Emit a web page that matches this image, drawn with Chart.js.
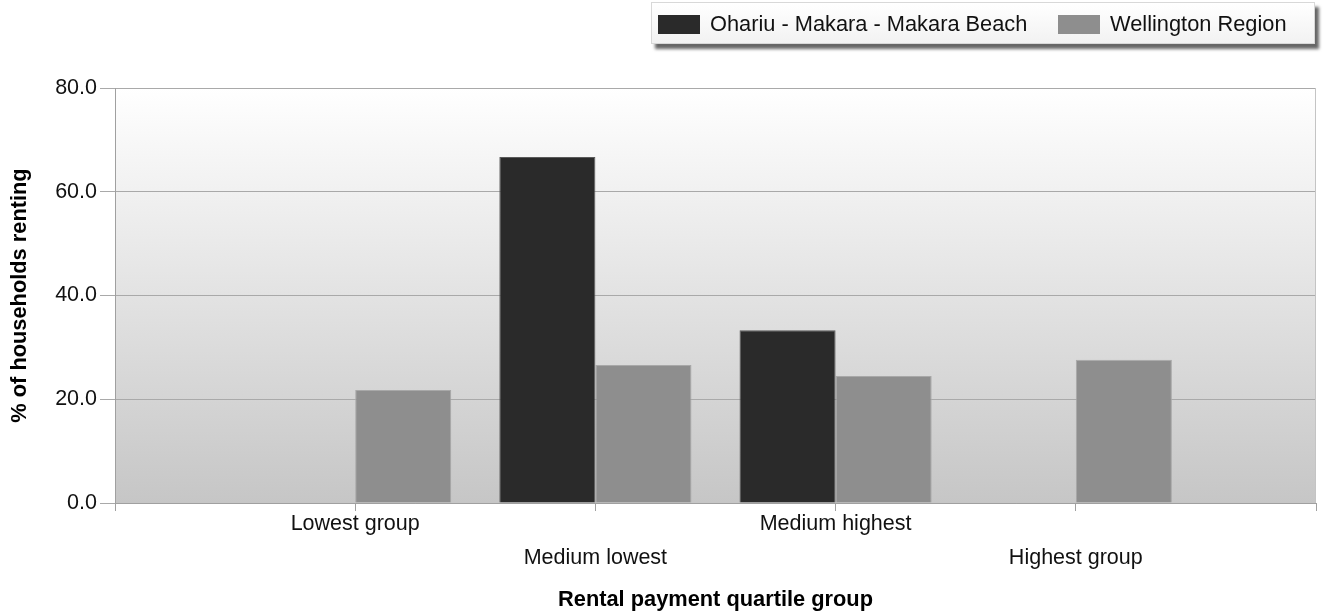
<!DOCTYPE html>
<html>
<head>
<meta charset="utf-8">
<script src="https://cdn.jsdelivr.net/npm/chart.js@4"></script>
<style>
  html, body { margin: 0; padding: 0; background: #fff; }
  #wrap { position: relative; width: 1326px; height: 614px; }
  #legend {
    position: absolute; left: 651px; top: 2px; width: 664px; height: 42px;
    box-sizing: border-box; border: 1px solid #d8d8d8;
    background: linear-gradient(#ffffff, #f2f2f2);
    box-shadow: 4px 5px 3px rgba(0,0,0,0.6);
    font: 21.8px "Liberation Sans", Arial, sans-serif; color: #111;
  }
  .item { position: absolute; top: 9px; line-height: 24px; white-space: nowrap; }
  .sw { display: inline-block; width: 42px; height: 19px; vertical-align: -3px; margin-right: 10px; }
</style>
</head>
<body>
<div id="wrap">
  <canvas id="myChart" width="1326" height="614"></canvas>
  <div id="legend"></div>
</div>
<script>
// data
const categories = ['Lowest group', 'Medium lowest', 'Medium highest', 'Highest group'];
const ohariuValues = [0, 66.7, 33.3, 0];
const wellingtonValues = [21.8, 26.6, 24.5, 27.6];
const seriesNames = ['Ohariu - Makara - Makara Beach', 'Wellington Region'];
const seriesColors = ['#2a2a2a', '#8e8e8e'];
const yTicks = [0, 20, 40, 60, 80];

// empty slot at each end so the groups sit like the original
const labels = [''].concat(categories, ['']);
const pad = arr => [null].concat(arr, [null]);

const fontFamily = '"Liberation Sans", Arial, sans-serif';

// legend as html
const legendEl = document.getElementById('legend');
const legendX = [6, 406];
seriesNames.forEach((name, i) => {
    const d = document.createElement('div');
    d.className = 'item';
    d.style.left = legendX[i] + 'px';
    d.innerHTML = '<span class="sw" style="background:' + seriesColors[i] + '"></span>' + name;
    legendEl.appendChild(d);
});

const plotBackground = {
    id: 'plotBackground',
    beforeDraw(chart) {
        const { ctx, chartArea: a } = chart;
        const g = ctx.createLinearGradient(0, a.top, 0, a.bottom);
        g.addColorStop(0, '#ffffff');
        g.addColorStop(1, '#c6c6c6');
        ctx.save();
        ctx.fillStyle = g;
        ctx.fillRect(a.left, a.top, a.right - a.left, a.bottom - a.top);
        ctx.restore();
    },
    afterDraw(chart) {
        const { ctx, chartArea: a } = chart;
        ctx.save();
        ctx.strokeStyle = '#c4c4c4';
        ctx.lineWidth = 1;
        ctx.beginPath();
        ctx.moveTo(a.right - 0.5, a.top);
        ctx.lineTo(a.right - 0.5, a.bottom);
        ctx.stroke();
        ctx.restore();
    }
};

const ctx = document.getElementById('myChart');
const myChart = new Chart(ctx, {
    type: 'bar',
    data: {
        labels: labels,
        datasets: [{
            label: seriesNames[0],
            data: pad(ohariuValues),
            backgroundColor: seriesColors[0],
            borderColor: '#5a5a5a',
            borderWidth: 1
        }, {
            label: seriesNames[1],
            data: pad(wellingtonValues),
            backgroundColor: seriesColors[1],
            borderColor: '#a8a8a8',
            borderWidth: 1
        }]
    },
    options: {
        responsive: false,
        animation: false,
        layout: { padding: { top: 88, right: 10, left: 0, bottom: 0 } },
        datasets: { bar: { categoryPercentage: 0.8, barPercentage: 1.0 } },
        scales: {
            x: {
                offset: false,
                grid: { offset: false, drawOnChartArea: false, color: '#a0a0a0', tickLength: 8 },
                border: { color: '#a0a0a0' },
                ticks: {
                    autoSkip: false, maxRotation: 0, minRotation: 0,
                    padding: -4, color: '#111',
                    font: { family: fontFamily, size: 21.5, lineHeight: 1.58 },
                    callback: function(v, i) {
                        const l = labels[i];
                        return i % 2 === 0 ? ['', l] : l;
                    }
                },
                title: {
                    display: true, text: 'Rental payment quartile group', color: '#000',
                    font: { family: fontFamily, size: 21.8, weight: 'bold' },
                    padding: { top: 0, bottom: 1 }
                },
                afterFit: s => { s.height = 111; }
            },
            y: {
                min: 0, max: 80,
                afterBuildTicks: s => { s.ticks = yTicks.map(v => ({ value: v })); },
                grid: { color: '#a9a9a9', tickLength: 15 },
                border: { color: '#a0a0a0' },
                ticks: {
                    padding: 3, color: '#111',
                    font: { family: fontFamily, size: 21.5 },
                    callback: v => v.toFixed(1)
                },
                title: {
                    display: true, text: '% of households renting', color: '#000',
                    font: { family: fontFamily, size: 21.8, weight: 'bold' },
                    padding: { top: 7, bottom: 0 }
                },
                afterFit: s => { s.width = 115; }
            }
        },
        plugins: {
            legend: { display: false },
            tooltip: { enabled: false }
        }
    },
    plugins: [plotBackground]
});
</script>
</body>
</html>
